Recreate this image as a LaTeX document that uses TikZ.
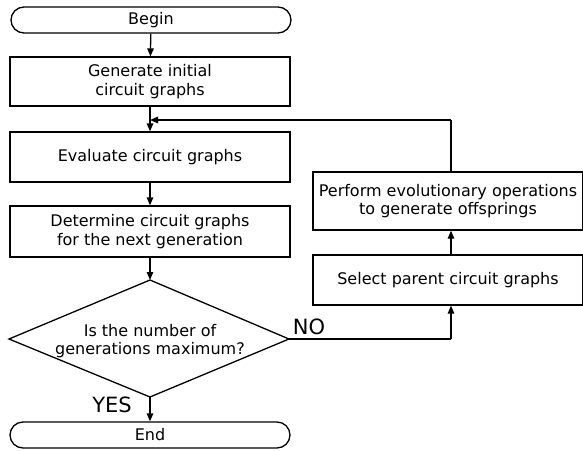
\documentclass[tikz,border=0pt]{standalone}
\usepackage{fontspec}
\setmainfont{DejaVu Sans}
\usetikzlibrary{arrows.meta}
\begin{document}
\begin{tikzpicture}[x=1pt,y=-1pt,
  every node/.style={font=\fontsize{16}{18.5}\selectfont},
  term/.style={draw,line width=1.3pt,rounded corners=13pt,minimum width=280pt,minimum height=26pt,inner sep=0pt},
  box/.style={draw,line width=1.3pt,minimum width=280pt,inner sep=0pt,align=center},
  txt/.style={inner sep=0pt,align=center},
  lbl/.style={font=\fontsize{21}{21}\selectfont,inner sep=0pt},
  arr/.style={line width=1.3pt,-{Triangle[length=8pt,width=6.5pt]}},
  ln/.style={line width=1.3pt}]
\useasboundingbox (0,0) rectangle (583,450);
\node[term] (begin) at (151,20) {Begin};
\node[box,minimum height=49pt] (gen) at (150,81.5) {Generate initial\\circuit graphs};
\node[box,minimum height=50pt] (eval) at (150,157) {Evaluate circuit graphs};
\node[box,minimum height=51pt] (det) at (150,231.5) {Determine circuit graphs\\for the next generation};
% decision diamond
\coordinate (dectop) at (150,280);
\coordinate (decbot) at (150,397);
\coordinate (decleft) at (9,339);
\coordinate (decright) at (289,339);
\draw[ln,line join=miter] (dectop) -- (decright) -- (decbot) -- (decleft) -- cycle;
\node[txt] (dec) at (150,341) {Is the number of\\generations maximum?};
\node[term] (end) at (150,435) {End};
\node[box,minimum width=270pt,minimum height=58pt] (perf) at (448,201) {Perform evolutionary operations\\to generate offsprings};
\node[box,minimum width=270pt,minimum height=50pt] (sel) at (448,280) {Select parent circuit graphs};
\node[lbl] (yes) at (112,405) {YES};
\node[lbl] (no) at (309,327) {NO};
\coordinate (join) at (150,120);
\coordinate (fb) at (451,120);
\coordinate (nocorner) at (451,339);
\draw[arr] (begin) -- (gen);
\draw[ln] (gen) -- (join);
\draw[arr] (join) -- (eval);
\draw[arr] (eval) -- (det);
\draw[arr] (det) -- (dectop);
\draw[arr] (decbot) -- (end);
\draw[ln] (decright) -- (nocorner);
\draw[arr] (nocorner) -- (sel.south -| nocorner);
\draw[arr] (sel.north -| nocorner) -- (perf.south -| nocorner);
\draw[ln] (perf.north -| fb) -- (fb);
\draw[arr] (fb) -- (join);
\end{tikzpicture}
\end{document}
